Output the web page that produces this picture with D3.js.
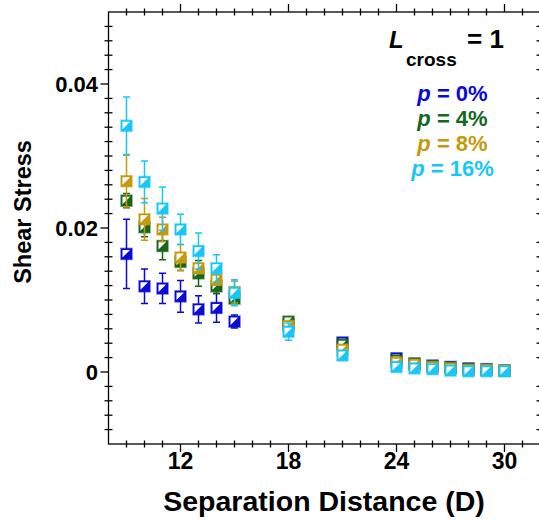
<!DOCTYPE html>
<html>
<head>
<meta charset="utf-8">
<script src="https://cdn.jsdelivr.net/npm/d3@7"></script>
<style>
  body { margin: 0; background: #fff; }
  svg { display: block; }
  text { font-family: Arial, "Liberation Sans", Helvetica, sans-serif; font-weight: bold; }
</style>
</head>
<body>
<div id="chart"></div>
<script>
// data
var distances = [9, 10, 11, 12, 13, 14, 15, 18, 21, 24, 25, 26, 27, 28, 29, 30];

var p0 = [0.0164, 0.0119, 0.0116, 0.0105, 0.0087, 0.0089, 0.0070, 0.0066, 0.0041, 0.0019, 0.0011, 0.0009, 0.0007, 0.0005, 0.0004, 0.0002];
var p0Err = [0.0048, 0.0024, 0.0021, 0.0022, 0.0019, 0.0020, 0.0009, 0.0003, 0.0002, 0.0002, 0.0001, 0.0001, 0.0001, 0.0001, 0.0001, 0.0001];

var p4 = [0.0238, 0.0201, 0.0175, 0.0153, 0.0137, 0.0119, 0.0102, 0.0070, 0.0038, 0.0016, 0.0012, 0.0008, 0.0006, 0.0004, 0.0003, 0.0002];
var p4Err = [0.0010, 0.0013, 0.0019, 0.0012, 0.0018, 0.0010, 0.0006, 0.0004, 0.0002, 0.0002, 0.0001, 0.0001, 0.0001, 0.0001, 0.0001, 0.0001];

var p8 = [0.0265, 0.0212, 0.0198, 0.0159, 0.0144, 0.0128, 0.0111, 0.0064, 0.0031, 0.0013, 0.0010, 0.0007, 0.0005, 0.0003, 0.0003, 0.0002];
var p8Err = [0.0036, 0.0029, 0.0017, 0.0018, 0.0007, 0.0007, 0.0015, 0.0004, 0.0002, 0.0002, 0.0001, 0.0001, 0.0001, 0.0001, 0.0001, 0.0001];

var p16 = [0.0342, 0.0264, 0.0227, 0.0198, 0.0168, 0.0144, 0.0110, 0.0056, 0.0023, 0.0007, 0.0005, 0.0004, 0.0002, 0.0001, 0.0001, 0.0001];
var p16Err = [0.0040, 0.0029, 0.0030, 0.0021, 0.0025, 0.0019, 0.0018, 0.0012, 0.0003, 0.0002, 0.0001, 0.0001, 0.0001, 0.0001, 0.0001, 0.0001];

var seriesNames = ['0%', '4%', '8%', '16%'];
var xTicks = [12, 18, 24, 30];
var yTicks = [0, 0.02, 0.04];

var series = [
  { name: seriesNames[0], values: p0, errs: p0Err, color: '#0a0ad6' },
  { name: seriesNames[1], values: p4, errs: p4Err, color: '#17661c' },
  { name: seriesNames[2], values: p8, errs: p8Err, color: '#c49a0c' },
  { name: seriesNames[3], values: p16, errs: p16Err, color: '#19c6f8' }
];

var width = 539, height = 527;
var plotL = 108.5, plotR = 540.5, plotT = 12, plotB = 444;

var svg = d3.select('#chart').append('svg')
  .attr('width', width)
  .attr('height', height);

var x = d3.scaleLinear().domain([8, 32]).range([plotL, plotR]);
var y = d3.scaleLinear().domain([-0.01, 0.05]).range([plotB, plotT]);

// frame + ticks
var minorXf = d3.range(9, 32).filter(function(v) { return xTicks.indexOf(v) < 0; });
var minorY = d3.range(-4, 25).map(function(k) { return k * 0.002; }).filter(function(v) {
  return yTicks.every(function(t) { return Math.abs(t - v) > 1e-6; });
});

var axisG = svg.append('g').attr('stroke', '#000').attr('stroke-width', 1.3);

axisG.append('rect')
  .attr('x', plotL).attr('y', plotT)
  .attr('width', plotR - plotL).attr('height', plotB - plotT)
  .attr('fill', 'none');

// bottom / top minor
axisG.selectAll('.bx').data(minorXf).enter().append('line')
  .attr('x1', d => x(d)).attr('x2', d => x(d))
  .attr('y1', plotB - 3.5).attr('y2', plotB + 3.5);
axisG.selectAll('.tx').data(minorXf).enter().append('line')
  .attr('x1', d => x(d)).attr('x2', d => x(d))
  .attr('y1', plotT - 3.5).attr('y2', plotT + 3.5);
// major x
axisG.selectAll('.bxm').data(xTicks).enter().append('line')
  .attr('x1', d => x(d)).attr('x2', d => x(d))
  .attr('y1', plotB).attr('y2', plotB + 8);
axisG.selectAll('.txm').data(xTicks).enter().append('line')
  .attr('x1', d => x(d)).attr('x2', d => x(d))
  .attr('y1', plotT).attr('y2', plotT - 8);

// left / right minor
axisG.selectAll('.ly').data(minorY).enter().append('line')
  .attr('x1', plotL - 4).attr('x2', plotL + 4)
  .attr('y1', d => y(d)).attr('y2', d => y(d));
axisG.selectAll('.ry').data(minorY).enter().append('line')
  .attr('x1', plotR - 4).attr('x2', plotR + 4)
  .attr('y1', d => y(d)).attr('y2', d => y(d));
axisG.selectAll('.lym').data(yTicks).enter().append('line')
  .attr('x1', plotL - 8).attr('x2', plotL)
  .attr('y1', d => y(d)).attr('y2', d => y(d));

// tick labels
svg.selectAll('.xl').data(xTicks).enter().append('text')
  .attr('x', d => x(d)).attr('y', 469)
  .attr('text-anchor', 'middle')
  .attr('font-size', 23)
  .text(d => d);

svg.selectAll('.yl').data(yTicks).enter().append('text')
  .attr('x', 98).attr('y', d => y(d) + 8)
  .attr('text-anchor', 'end')
  .attr('font-size', 22)
  .text(d => d === 0 ? '0' : d3.format('.2f')(d));

// axis titles
svg.append('text')
  .attr('x', 324).attr('y', 511)
  .attr('text-anchor', 'middle')
  .attr('font-size', 28.5)
  .text('Separation Distance (D)');

svg.append('text')
  .attr('transform', 'translate(31,212) rotate(-90)')
  .attr('text-anchor', 'middle')
  .attr('font-size', 23.5)
  .text('Shear Stress');

// points
var half = 5.5;
series.forEach(function(s) {
  var g = svg.append('g');
  var pts = distances.map(function(d, i) { return { d: d, v: s.values[i], e: s.errs[i] }; });

  g.selectAll('.eb').data(pts).enter().append('path')
    .attr('stroke', s.color).attr('stroke-width', 1.5).attr('fill', 'none')
    .attr('d', function(p) {
      var cx = x(p.d), y1 = y(p.v + p.e), y2 = y(p.v - p.e);
      return 'M' + cx + ',' + y1 + 'V' + y2 +
        'M' + (cx - 3.5) + ',' + y1 + 'H' + (cx + 3.5) +
        'M' + (cx - 3.5) + ',' + y2 + 'H' + (cx + 3.5);
    });

  var m = g.selectAll('.mk').data(pts).enter().append('g')
    .attr('transform', p => 'translate(' + x(p.d) + ',' + y(p.v) + ')');
  m.append('rect')
    .attr('x', -half).attr('y', -half)
    .attr('width', half * 2).attr('height', half * 2)
    .attr('fill', s.color)
    .attr('stroke', s.color).attr('stroke-opacity', 0.6).attr('stroke-width', 1.5);
  m.append('path')
    .attr('fill', '#fff')
    .attr('d', 'M' + (-half + 1.5) + ',' + (-half + 1.5) + 'H' + (half - 2) + 'L' + (-half + 1.5) + ',' + (half - 2) + 'Z');
});

// legend
var lg = svg.append('g');
lg.append('text').attr('x', 389).attr('y', 48).attr('font-size', 24).attr('font-style', 'italic').text('L');
lg.append('text').attr('x', 406).attr('y', 66).attr('font-size', 19).text('cross');
lg.append('text').attr('x', 467).attr('y', 48).attr('font-size', 26).text('= 1');

lg.selectAll('.le').data(series).enter().append('text')
  .attr('x', 452.5)
  .attr('y', (d, i) => 101 + i * 25)
  .attr('text-anchor', 'middle')
  .attr('font-size', 22)
  .attr('fill', d => d.color)
  .each(function(d) {
    var t = d3.select(this);
    t.append('tspan').attr('font-style', 'italic').text('p');
    t.append('tspan').text(' = ' + d.name);
  });
</script>
</body>
</html>
